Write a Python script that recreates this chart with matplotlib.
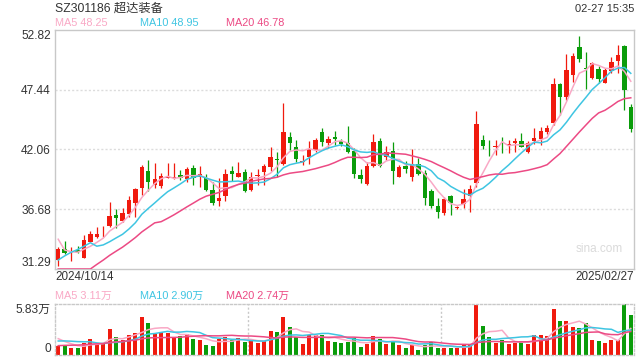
import numpy as np
import matplotlib
matplotlib.use('Agg')
import matplotlib.pyplot as plt

# ---------------- data ----------------
title = "SZ301186 超达装备"
timestamp = "02-27 15:35"
start_label = "2024/10/14"
end_label = "2025/02/27"
price_ticks = [31.29, 36.68, 42.06, 47.44, 52.82]
vol_ticks = [0, 5.83]
vol_tick_labels = ["0", "5.83万"]
ma_price_labels = ["MA5 48.25", "MA10 48.95", "MA20 46.78"]
ma_vol_labels = ["MA5 3.11万", "MA10 2.90万", "MA20 2.74万"]

opens = [32.12, 33.09, 32.78, 33.00, 32.30, 33.72, 34.16, 34.68, 35.16, 36.15,
         35.61, 36.27, 37.26, 38.61, 40.12, 38.85, 38.79, 39.50, 39.48, 39.80,
         39.37, 40.40, 39.60, 39.50, 38.40, 37.41, 37.89, 40.12, 39.60, 40.00,
         38.40, 39.70, 40.05, 40.50, 41.22, 40.72, 43.18, 42.28, 40.95, 41.38,
         42.00, 43.63, 42.61, 43.18, 42.82, 42.61, 41.92, 39.75, 38.94, 40.60,
         42.82, 41.40, 41.92, 39.60, 40.60, 39.60, 40.75, 39.96, 38.31, 36.96,
         36.30, 37.86, 36.75, 37.14, 37.87, 39.00, 42.91, 42.40, 42.28, 42.40,
         42.46, 42.67, 42.82, 41.86, 42.85, 42.97, 43.66, 44.47, 47.96, 46.81,
         48.77, 51.32, 49.43, 48.53, 49.31, 48.08, 49.16, 50.06, 51.38, 45.91]
highs = [33.30, 33.81, 33.30, 33.40, 34.35, 34.71, 35.04, 35.16, 37.35, 36.70,
         36.75, 37.90, 38.60, 40.70, 41.10, 40.85, 39.96, 40.80, 40.80, 40.20,
         40.50, 40.65, 40.60, 39.82, 39.10, 39.45, 40.30, 40.60, 40.90, 40.30,
         40.05, 40.30, 40.75, 42.28, 41.80, 46.27, 43.66, 42.90, 41.55, 42.80,
         43.06, 43.96, 43.24, 43.75, 43.03, 44.20, 42.16, 40.27, 40.95, 43.42,
         43.06, 42.37, 42.70, 40.70, 41.00, 42.07, 41.30, 40.20, 38.50, 37.65,
         37.80, 37.96, 36.97, 38.47, 38.86, 45.55, 43.36, 42.91, 42.91, 43.15,
         42.91, 43.12, 43.51, 42.82, 43.96, 44.11, 44.29, 48.50, 48.02, 50.66,
         50.78, 52.31, 50.87, 49.97, 49.58, 49.37, 50.42, 51.47, 51.47, 46.15]
lows = [31.58, 32.61, 32.05, 32.70, 32.25, 33.72, 34.10, 34.20, 35.10, 34.95,
        35.55, 35.97, 35.95, 38.00, 38.30, 38.55, 38.60, 39.45, 39.40, 39.30,
        39.10, 38.90, 38.70, 38.30, 37.10, 36.95, 37.40, 39.25, 39.55, 38.20,
        38.30, 38.90, 38.85, 40.10, 39.60, 40.66, 42.00, 40.95, 40.63, 40.77,
        41.80, 42.40, 42.16, 42.46, 42.40, 41.70, 39.50, 39.00, 38.85, 40.50,
        40.50, 41.10, 38.92, 39.55, 39.90, 39.20, 39.75, 37.05, 36.75, 35.85,
        36.15, 36.12, 36.70, 36.75, 36.45, 38.70, 42.10, 41.47, 41.56, 41.71,
        41.77, 41.83, 42.25, 41.77, 42.55, 42.46, 43.42, 44.23, 45.16, 46.51,
        48.17, 49.97, 47.47, 48.38, 48.02, 48.02, 48.98, 48.98, 45.61, 43.66]
closes = [33.09, 32.70, 32.85, 32.85, 33.87, 34.41, 34.46, 34.75, 36.06, 35.85,
          36.36, 37.50, 38.49, 40.48, 39.10, 39.37, 39.66, 39.60, 39.55, 39.50,
          40.30, 39.50, 39.82, 38.40, 37.26, 37.71, 39.85, 39.88, 39.90, 38.34,
          39.55, 39.78, 40.57, 41.38, 41.15, 43.63, 42.67, 41.22, 41.02, 42.10,
          42.90, 42.76, 43.03, 43.00, 42.52, 41.85, 39.82, 39.39, 40.57, 42.76,
          40.57, 41.85, 40.12, 40.50, 40.30, 40.72, 39.82, 37.71, 36.99, 36.39,
          37.59, 37.20, 36.90, 37.59, 38.50, 44.35, 42.37, 42.34, 42.34, 42.34,
          42.58, 42.82, 42.31, 42.61, 43.12, 43.72, 43.96, 47.96, 46.81, 49.22,
          50.48, 50.18, 49.28, 49.82, 48.38, 49.22, 49.91, 50.57, 47.41, 43.90]
volumes = [1.00, 1.00, 0.80, 0.80, 1.37, 1.83, 1.30, 1.30, 2.97, 2.06,
           1.68, 2.29, 2.51, 4.34, 3.66, 2.44, 2.59, 2.51, 1.98, 2.21,
           2.40, 1.83, 1.71, 1.14, 1.03, 1.87, 2.06, 1.71, 1.94, 1.52,
           1.68, 1.37, 1.56, 2.74, 2.63, 4.34, 3.20, 2.02, 1.26, 2.29,
           2.29, 2.29, 1.60, 1.49, 1.40, 1.49, 1.94, 0.88, 1.26, 2.13,
           1.79, 1.26, 1.56, 1.14, 0.80, 1.14, 0.57, 1.10, 1.52, 0.80,
           0.80, 0.80, 0.80, 1.14, 1.14, 5.70, 3.31, 2.06, 1.37, 1.71,
           1.30, 1.37, 1.56, 1.30, 2.29, 2.29, 2.13, 5.26, 3.89, 3.89,
           3.20, 3.09, 3.66, 1.71, 1.60, 1.37, 1.71, 1.71, 5.83, 4.57]
# sessions before the visible window (estimated from where the MA lines start)
prior_closes = [24.6, 24.8, 25.0, 25.3, 25.3, 26.2, 26.9, 27.5, 28.4, 29.1,
                29.0, 29.6, 30.4, 30.9, 31.25, 37.56, 33.6, 33.15, 32.46]
prior_volumes = [0.40, 0.45, 0.50, 0.50, 0.55, 0.55, 0.60, 0.60, 0.60, 0.65,
                 0.90, 1.10, 1.30, 1.55, 1.80, 2.60, 2.10, 1.90, 1.75]

# ---------------- style ----------------
RED = '#f01a0e'
GREEN = '#0a9c0a'
MA_COLORS = ['#f9a8c5', '#3fc5e2', '#ec4a84']
MA_PERIODS = [5, 10, 20]
GRID = '#dcdcdc'
FRAME = '#c8c8c8'
TXT = '#333333'

plt.rcParams['font.family'] = ['Liberation Sans', 'Noto Sans CJK SC']


def moving_average(prior, values, n):
    full = np.concatenate([np.asarray(prior, float), np.asarray(values, float)])
    out = np.convolve(full, np.ones(n) / n, mode='valid')
    return out[-len(values):]


o = np.array(opens); h = np.array(highs); l = np.array(lows); c = np.array(closes)
v = np.array(volumes)
x = np.arange(len(c))
cols = [RED if cc >= oo else GREEN for oo, cc in zip(o, c)]

fig = plt.figure(figsize=(6.4, 3.6), dpi=100)
ax = fig.add_axes([55 / 640, 91 / 360, 579 / 640, 239 / 360])
vax = fig.add_axes([55 / 640, 5 / 360, 579 / 640, 51 / 360])

# ---- price panel ----
ylo, yhi = price_ticks[0], price_ticks[-1]
for t in price_ticks[1:-1]:
    ax.axhline(t, color=GRID, lw=1.0, ls=(0, (1.5, 1.5)), zorder=0)
ax.vlines(x, l, h, colors=cols, lw=0.9, zorder=2)
body = np.maximum(np.abs(c - o), 0.06)
ax.bar(x, body, bottom=np.minimum(o, c), width=0.68, color=cols, lw=0, zorder=3)
for n, col in zip(MA_PERIODS, MA_COLORS):
    ma = moving_average(prior_closes, c, n)
    ax.plot(x, np.clip(ma, ylo, yhi), color=col, lw=1.1, zorder=4)
ax.set_xlim(-0.5, len(c) - 0.5)
ax.set_ylim(ylo, yhi)
ax.set_xticks([])
ax.set_yticks(price_ticks)
ax.set_yticklabels([f"{t:.2f}" for t in price_ticks])
ax.tick_params(axis='y', length=0, pad=3, labelsize=8.6, labelcolor=TXT)
labs = ax.get_yticklabels()
labs[0].set_va('bottom')
labs[-1].set_va('top')
for s in ax.spines.values():
    s.set_color(FRAME)
    s.set_linewidth(1.0)
ax.text(0.981, 0.084, 'sina.com', transform=ax.transAxes, ha='right', va='center',
        color='#dadada', fontsize=8.5)

# ---- volume panel ----
vax.bar(x, v, width=0.62, color=cols, lw=0, zorder=2)
for n, col in zip(MA_PERIODS, MA_COLORS):
    ma = moving_average(prior_volumes, v, n)
    vax.plot(x, ma, color=col, lw=1.1, zorder=3)
vax.set_xlim(-0.5, len(c) - 0.5)
vax.set_ylim(vol_ticks[0], vol_ticks[-1])
vax.set_xticks([])
vax.set_yticks(vol_ticks)
vax.set_yticklabels(vol_tick_labels)
vax.tick_params(axis='y', length=0, pad=3, labelsize=8.6, labelcolor=TXT)
vl = vax.get_yticklabels()
vl[0].set_va('bottom')
vl[-1].set_va('top')
for s in vax.spines.values():
    s.set_color(FRAME)
    s.set_linewidth(1.0)
    s.set_linestyle((0, (1.5, 1.5)))
for frac in (1 / 3, 2 / 3):
    vax.plot([frac, frac], [0, 1], transform=vax.transAxes, color=FRAME,
             lw=1.0, ls=(0, (1.5, 1.5)), zorder=1)

# ---- texts ----
fig.text(55 / 640, 1 - 8.5 / 360, title, ha='left', va='center', fontsize=8.8, color=TXT)
fig.text(634 / 640, 1 - 9 / 360, timestamp, ha='right', va='center', fontsize=8.0, color=TXT)
for xpos, lab, col in zip([55, 140, 225.5], ma_price_labels, MA_COLORS):
    fig.text(xpos / 640, 1 - 23.5 / 360, lab, ha='left', va='center', fontsize=7.8, color=col)
for xpos, lab, col in zip([55, 140, 225.5], ma_vol_labels, MA_COLORS):
    fig.text(xpos / 640, 1 - 296 / 360, lab, ha='left', va='center', fontsize=7.8, color=col)
fig.text(55 / 640, 1 - 277.5 / 360, start_label, ha='left', va='center', fontsize=8.4, color=TXT)
fig.text(634 / 640, 1 - 277.5 / 360, end_label, ha='right', va='center', fontsize=8.4, color=TXT)

fig.savefig('out.png', dpi=100)
